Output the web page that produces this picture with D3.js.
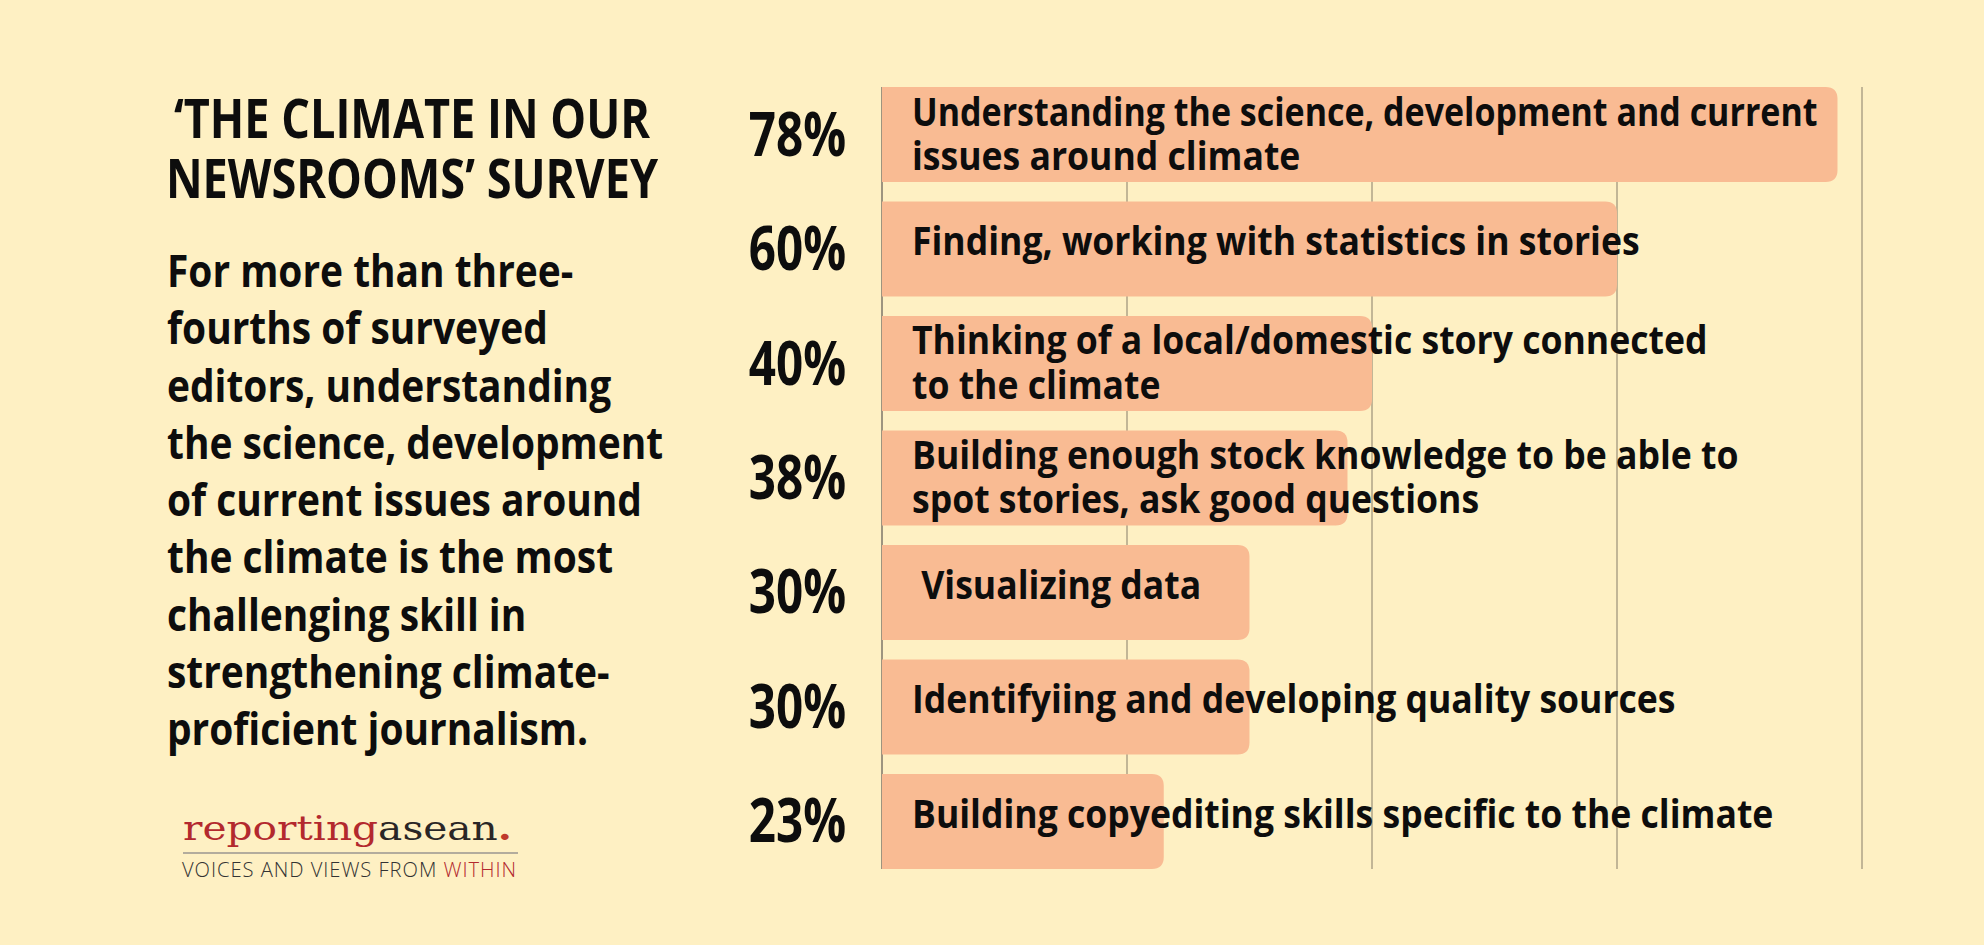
<!DOCTYPE html>
<html>
<head>
<meta charset="utf-8">
<script src="https://cdn.jsdelivr.net/npm/d3@7"></script>
<style>
html, body { margin: 0; padding: 0; background: #fef0c3; }
svg text { font-family: "Open Sans", "Noto Sans", sans-serif; font-weight: 700; fill: #0d0d0d; white-space: pre; }
</style>
</head>
<body>
<svg id="chart" width="1984" height="945"></svg>
<script>
// data ---------------------------------------------------------
var skills = [
  ["Understanding the science, development and current", "issues around climate"],
  ["Finding, working with statistics in stories"],
  ["Thinking of a local/domestic story connected", "to the climate"],
  ["Building enough stock knowledge to be able to", "spot stories, ask good questions"],
  [" Visualizing data"],
  ["Identifyiing and developing quality sources"],
  ["Building copyediting skills specific to the climate"]
];
var shares = [78, 60, 40, 38, 30, 30, 23];
var gridTicks = [0, 20, 40, 60, 80];

var titleLines = ["\u2018THE CLIMATE IN OUR", "NEWSROOMS\u2019 SURVEY"];
var bodyLines = [
  "For more than three-",
  "fourths of surveyed",
  "editors, understanding",
  "the science, development",
  "of current issues around",
  "the climate is the most",
  "challenging skill in",
  "strengthening climate-",
  "proficient journalism."
];

// squeeze a bold face into a condensed look, optionally capped to a max width
function condense(sel, k, maxW){
  sel.each(function(){
    var w = this.getComputedTextLength() * k;
    if (maxW && w > maxW) w = maxW;
    d3.select(this).attr("textLength", w).attr("lengthAdjust", "spacingAndGlyphs");
  });
}

function drawChart(){
var svg = d3.select("#chart");

svg.append("rect").attr("width", 1984).attr("height", 945).style("fill", "#fef0c3");

var x = d3.scaleLinear().domain([0, 80]).range([882, 1862]);
var y = d3.scaleBand().domain(d3.range(shares.length)).range([87, 869]).paddingInner(0.17);

//grid lines behind the bars
svg.append("g").selectAll("line")
  .data(gridTicks)
  .enter()
  .append("line")
  .attr("x1", function(d){ return x(d); })
  .attr("x2", function(d){ return x(d); })
  .attr("y1", y.range()[0])
  .attr("y2", y.range()[1])
  .style("stroke", function(d){ return d === 0 ? "#7d7668" : "#c2b696"; })
  .style("stroke-width", function(d){ return d === 0 ? 1.5 : 2; });

//bars, rounded on the right side only
var r = 12;
svg.append("g").selectAll("path")
  .data(shares)
  .enter()
  .append("path")
  .attr("d", function(d, i){
    var x0 = x(0), x1 = x(d), y0 = y(i), h = y.bandwidth();
    return "M" + x0 + "," + y0 +
      "H" + (x1 - r) +
      "Q" + x1 + "," + y0 + " " + x1 + "," + (y0 + r) +
      "V" + (y0 + h - r) +
      "Q" + x1 + "," + (y0 + h) + " " + (x1 - r) + "," + (y0 + h) +
      "H" + x0 + "Z";
  })
  .style("fill", "#f9bb93");

//percent labels left of the axis
var pct = svg.append("g").selectAll("text")
  .data(shares)
  .enter()
  .append("text")
  .attr("x", x(0) - 36)
  .attr("y", function(d, i){ return y(i) + y.bandwidth() / 2 + 21; })
  .attr("text-anchor", "end")
  .style("font-size", "61px")
  .text(function(d){ return d + "%"; });
condense(pct, 0.78);

//skill labels over the bars, kept inside the longest bar
var labX = x(0) + 30;
var lab = svg.append("g").selectAll("g")
  .data(skills)
  .enter()
  .append("g");
var labLines = lab.selectAll("text")
  .data(function(d, i){
    return d.map(function(t, j){ return {t: t, j: j, n: d.length, i: i}; });
  })
  .enter()
  .append("text")
  .attr("x", labX)
  .attr("y", function(d){
    var first = d.n > 1 ? 38.5 : 54;
    return y(d.i) + first + d.j * 44.5;
  })
  .style("font-size", "39.5px")
  .text(function(d){ return d.t; });
condense(labLines, 0.9, x(d3.max(shares)) - 20 - labX);

//title and text on the left
var title = svg.append("g").selectAll("text")
  .data(titleLines)
  .enter()
  .append("text")
  .attr("x", 412)
  .attr("y", function(d, i){ return 138 + i * 60; })
  .attr("text-anchor", "middle")
  .style("font-size", "54px")
  .text(function(d){ return d; });
condense(title, 0.835);

var body = svg.append("g").selectAll("text")
  .data(bodyLines)
  .enter()
  .append("text")
  .attr("x", 167)
  .attr("y", function(d, i){ return 287 + i * 57.25; })
  .style("font-size", "45px")
  .text(function(d){ return d; });
condense(body, 0.864);

//logo
var logo = svg.append("g");
var mark = logo.append("text")
  .attr("x", 183)
  .attr("y", 840)
  .attr("textLength", 329)
  .attr("lengthAdjust", "spacingAndGlyphs")
  .style("font-family", "'DejaVu Serif', 'Liberation Serif', serif")
  .style("font-weight", 400)
  .style("font-size", "34px");
mark.append("tspan").style("fill", "#b3292e").text("reporting");
mark.append("tspan").style("fill", "#2a2626").text("asean");
mark.append("tspan").style("fill", "#c0392b").style("font-weight", 700).text(".");

logo.append("line")
  .attr("x1", 183).attr("x2", 518)
  .attr("y1", 853).attr("y2", 853)
  .style("stroke", "#9a9690")
  .style("stroke-width", 1.5);

var tag = logo.append("text")
  .attr("x", 182)
  .attr("y", 877)
  .attr("textLength", 335)
  .attr("lengthAdjust", "spacingAndGlyphs")
  .style("font-family", "'Open Sans', sans-serif")
  .style("font-weight", 300)
  .style("font-size", "21px")
  .style("letter-spacing", "1px");
tag.append("tspan").style("fill", "#333").text("VOICES AND VIEWS FROM ");
tag.append("tspan").style("fill", "#b3292e").text("WITHIN");
}

window.onload = drawChart;
</script>
</body>
</html>
